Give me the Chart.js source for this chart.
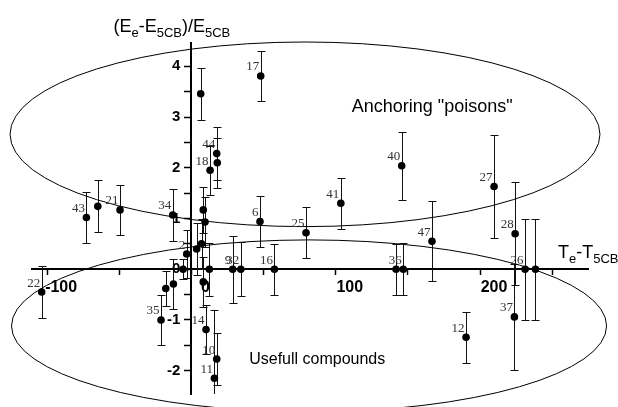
<!DOCTYPE html>
<html><head><meta charset="utf-8">
<script src="https://cdn.jsdelivr.net/npm/chart.js@4/dist/chart.umd.min.js"></script>
<style>html,body{margin:0;padding:0;background:#fff}</style>
</head><body>
<canvas id="c" width="618" height="407"></canvas>
<script>
// ---- data ----
const compoundIds = ['43','','21','34','22','35','','','2','','','','','','14','10','11','9','32','16','6','25','41','','36','40','47','27','28','37','26','','12','17','','44','','18','',''];
const deltaT = [-72.8,-64.9,-49.5,-13.0,-103.8,-21.1,-17.8,-12.5,-3.3,-5.8,3.6,7.0,12.4,8.2,10.1,17.5,15.9,28.6,34.2,57.5,47.5,79.4,103.5,141.8,146.8,145.7,166.7,209.7,224.3,223.8,231.2,238.4,190.3,48.0,6.4,17.5,17.9,12.9,8.2,9.4];
const deltaE = [1.02,1.24,1.17,1.07,-0.45,-1.00,-0.38,-0.29,0.30,0.0,0.40,0.50,0.0,-0.25,-1.19,-1.77,-2.15,0.0,0.0,0.0,0.94,0.72,1.30,0.0,0.0,2.04,0.55,1.63,0.70,-0.94,0.0,0.0,-1.34,3.81,3.46,2.28,2.10,1.95,1.17,0.93];
const errE = [0.51,0.51,0.49,0.51,0.52,0.50,0.35,0.49,0.48,0.2,0.51,0.5,0.52,0.5,0.48,0.51,1.34,0.66,0.53,0.50,0.50,0.50,0.50,0.50,0.51,0.67,0.79,1.02,1.01,1.05,1.0,1.0,0.5,0.5,0.51,0.53,0.49,0.48,0.45,0.5];
const xTicks = [-100,-50,0,50,100,150,200,250];
const xTickLabels = ['-100','','0','','100','','200',''];
const yTicks = [-2,-1.5,-1,-0.5,0,0.5,1,1.5,2,2.5,3,3.5,4];
const yTickLabels = ['-2','','-1','','0','','1','','2','','3','','4'];
// regions (centre x, centre y, half-width, half-height in data units)
const regionPoisons = [78.7, 2.66, 204.4, 1.82];
const regionUseful = [81.5, -1.118, 206.2, 1.696];
const textPoisons = 'Anchoring "poisons"';
const textUseful = 'Usefull compounds';
const posPoisons = [111.1, 3.19];
const posUseful = [40.0, -1.79];

const SANS = '"Liberation Sans", Arial, sans-serif';
const SERIF = '"Liberation Serif", "Times New Roman", serif';

function drawSub(ctx, parts, x, base, big, small) {
  parts.forEach(([t, sub]) => {
    ctx.font = (sub ? small : big) + 'px ' + SANS;
    ctx.fillText(t, x, sub ? base + 5 : base);
    x += ctx.measureText(t).width;
  });
}

// y labels of a centre-positioned axis sit against the axis line: move them left of the ticks
const yLabelShift = {
  id: 'yLabelShift',
  beforeDraw(chart) {
    const items = chart.scales.y.getLabelItems(chart.chartArea);
    items.forEach(it => {
      const o = it.options || it;
      if (o.translation && !it._shifted) {
        o.translation = [o.translation[0] - 11, o.translation[1]];
        it._shifted = true;
      }
    });
  }
};

const overlay = {
  id: 'overlay',
  beforeDatasetsDraw(chart) {
    const {ctx, chartArea: a, scales: {x, y}} = chart;
    ctx.save();
    ctx.beginPath(); ctx.rect(a.left, a.top, a.right - a.left, a.bottom - a.top); ctx.clip();
    ctx.strokeStyle = '#111'; ctx.lineWidth = 1;
    deltaT.forEach((t, i) => {
      const px = Math.round(x.getPixelForValue(t)) + 0.5;
      const y1 = Math.round(y.getPixelForValue(deltaE[i] + errE[i])) + 0.5;
      const y2 = Math.round(y.getPixelForValue(deltaE[i] - errE[i])) + 0.5;
      ctx.beginPath();
      ctx.moveTo(px, y1); ctx.lineTo(px, y2);
      ctx.moveTo(px - 4, y1); ctx.lineTo(px + 4, y1);
      ctx.moveTo(px - 4, y2); ctx.lineTo(px + 4, y2);
      ctx.stroke();
    });
    ctx.restore();
  },
  afterDatasetsDraw(chart) {
    const {ctx, chartArea: a, scales: {x, y}} = chart;
    ctx.save();
    ctx.strokeStyle = '#000'; ctx.lineWidth = 1;
    [regionPoisons, regionUseful].forEach(([cx, cy, rx, ry]) => {
      const pcx = x.getPixelForValue(cx), pcy = y.getPixelForValue(cy);
      const prx = Math.abs(x.getPixelForValue(cx + rx) - pcx);
      const pry = Math.abs(y.getPixelForValue(cy + ry) - pcy);
      ctx.beginPath(); ctx.ellipse(pcx, pcy, prx, pry, 0, 0, Math.PI * 2); ctx.stroke();
    });
    ctx.fillStyle = '#333'; ctx.font = '13px ' + SERIF;
    ctx.textAlign = 'right'; ctx.textBaseline = 'alphabetic';
    const meta = chart.getDatasetMeta(0);
    meta.data.forEach((pt, i) => {
      if (compoundIds[i]) ctx.fillText(compoundIds[i], pt.x - 1.5, pt.y - 5.5);
    });
    ctx.fillStyle = '#000'; ctx.textAlign = 'left'; ctx.textBaseline = 'middle';
    ctx.font = '18px ' + SANS;
    ctx.fillText(textPoisons, x.getPixelForValue(posPoisons[0]), y.getPixelForValue(posPoisons[1]));
    ctx.font = '16px ' + SANS;
    ctx.fillText(textUseful, x.getPixelForValue(posUseful[0]), y.getPixelForValue(posUseful[1]));
    ctx.textBaseline = 'alphabetic';
    const x0 = x.getPixelForValue(0), y0 = y.getPixelForValue(0);
    drawSub(ctx, [['T', 0], ['e', 1], ['-T', 0], ['5CB', 1]], a.right - 30, y0 - 11, 18, 13);
    drawSub(ctx, [['(E', 0], ['e', 1], ['-E', 0], ['5CB', 1], [')/E', 0], ['5CB', 1]], x0 - 78, a.top - 11, 18, 13);
    ctx.restore();
  }
};

new Chart(document.getElementById('c'), {
  type: 'scatter',
  data: {
    datasets: [{
      data: deltaT.map((t, i) => ({x: t, y: deltaE[i]})),
      pointRadius: 3.8, pointBackgroundColor: '#000', pointBorderWidth: 0, showLine: false
    }]
  },
  options: {
    responsive: false, animation: false, devicePixelRatio: 1,
    layout: {padding: {left: 32, right: 30, top: 43, bottom: 11}},
    plugins: {legend: {display: false}, tooltip: {enabled: false}},
    scales: {
      x: {
        type: 'linear', position: {y: 0}, min: -110.5, max: 274.8,
        afterBuildTicks: s => { s.ticks = xTicks.map(v => ({value: v})); },
        ticks: {callback: v => xTickLabels[xTicks.indexOf(v)], labelOffset: 14, padding: 4,
                font: {family: SANS, weight: 'bold', size: 16}, color: '#000', maxRotation: 0, autoSkip: false},
        grid: {drawOnChartArea: false, drawTicks: true, tickLength: 5, tickColor: '#000', tickWidth: 1.5},
        border: {display: true, color: '#000', width: 2}
      },
      y: {
        type: 'linear', position: {x: 0}, min: -2.46, max: 4.46,
        afterBuildTicks: s => { s.ticks = yTicks.map(v => ({value: v})); },
        ticks: {callback: v => yTickLabels[yTicks.indexOf(v)], padding: 4,
                font: {family: SANS, weight: 'bold', size: 15}, color: '#000', autoSkip: false},
        grid: {drawOnChartArea: false, drawTicks: true, tickLength: 6, tickColor: '#000', tickWidth: 1.5},
        border: {display: true, color: '#000', width: 2}
      }
    }
  },
  plugins: [yLabelShift, overlay]
});
</script>
</body></html>
